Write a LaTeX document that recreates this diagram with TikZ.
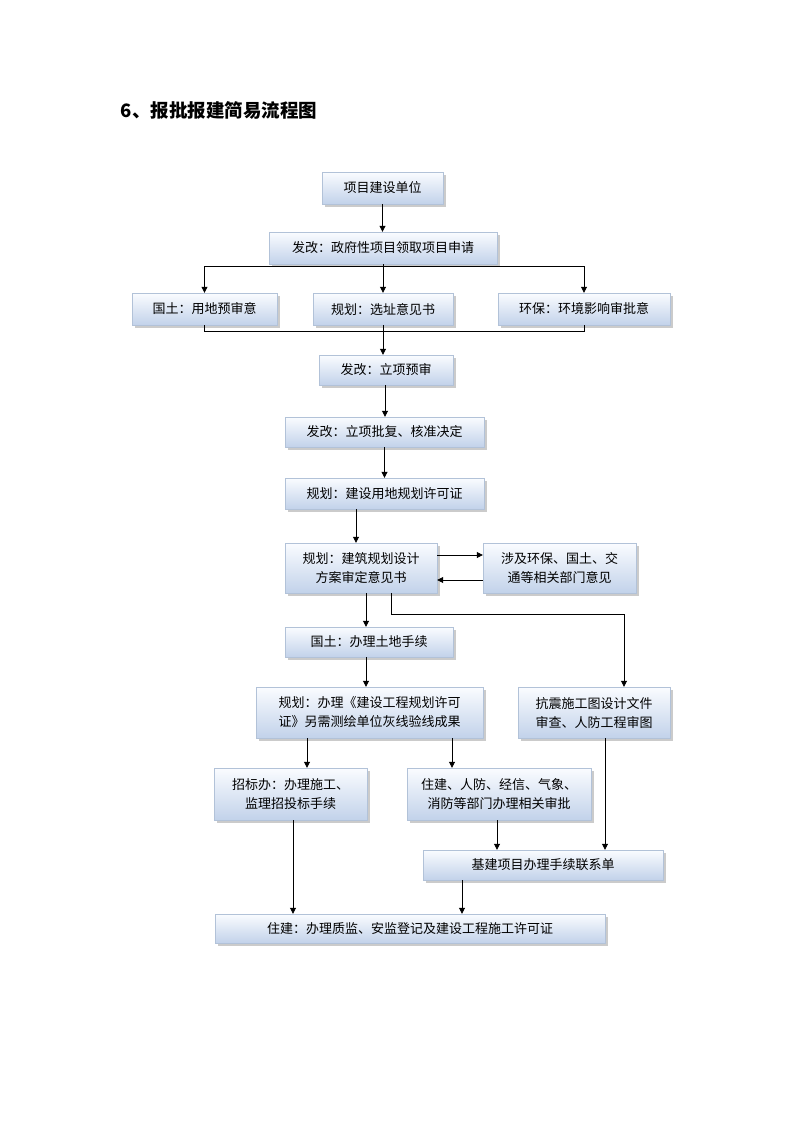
\documentclass[tikz,border=0pt]{standalone}
\usepackage{fontspec}
\newfontfamily\cjk{Noto Sans CJK SC}
\usetikzlibrary{arrows.meta,shadows}

\definecolor{boxtop}{RGB}{250,252,255}
\definecolor{boxbot}{RGB}{194,210,234}
\definecolor{boxline}{RGB}{178,194,216}

\tikzset{
  box/.style={draw=boxline, top color=boxtop, bottom color=boxbot,
    drop shadow={shadow xshift=2.5pt, shadow yshift=-2.5pt, fill=black!45, opacity=.45},
    inner sep=0pt, align=center, font=\cjk\fontsize{13}{19}\selectfont},
  arr/.style={-{Triangle[length=6pt,width=6pt]}, black, line width=.8pt},
  ln/.style={black, line width=.8pt}
}

\begin{document}
\begin{tikzpicture}[x=1pt,y=-1pt]
\useasboundingbox[fill=white] (0,0) rectangle (800,1132);

\node (title) at (219,110) {\cjk\bfseries\fontsize{18.5}{22}\selectfont 6、报批报建简易流程图};

% Put the boxes in, top to bottom:
\node[box, minimum width=121pt, minimum height=32pt] (xm) at (382.5,188) {项目建设单位};
\node[box, minimum width=228pt, minimum height=32pt] (fg) at (383,248) {发改：政府性项目领取项目申请};
\node[box, minimum width=145pt, minimum height=32pt] (gt) at (204.5,309) {国土：用地预审意};
\node[box, minimum width=140pt, minimum height=32pt] (gh) at (383,309) {规划：选址意见书};
\node[box, minimum width=172pt, minimum height=32pt] (hb) at (584,309) {环保：环境影响审批意};
\node[box, minimum width=134pt, minimum height=30pt] (lx) at (386,370) {发改：立项预审};
\node[box, minimum width=199pt, minimum height=30pt] (pf) at (384.5,432) {发改：立项批复、核准决定};
\node[box, minimum width=199pt, minimum height=31pt] (yd) at (384.5,493.5) {规划：建设用地规划许可证};
\node[box, minimum width=152pt, minimum height=50pt] (fa) at (361,568) {规划：建筑规划设计\\方案审定意见书};
\node[box, minimum width=153pt, minimum height=50pt] (yj) at (559.5,568) {涉及环保、国土、交\\通等相关部门意见};
\node[box, minimum width=168pt, minimum height=30pt] (td) at (369,642) {国土：办理土地手续};
\node[box, minimum width=227pt, minimum height=51pt] (xk) at (369.5,712.5) {规划：办理《建设工程规划许可\\证》另需测绘单位灰线验线成果};
\node[box, minimum width=152pt, minimum height=51pt] (kz) at (594,712.5) {抗震施工图设计文件\\审查、人防工程审图};
\node[box, minimum width=153pt, minimum height=52pt] (zb) at (290.5,794) {招标办：办理施工、\\监理招投标手续};
\node[box, minimum width=184pt, minimum height=52pt] (sp) at (499,794) {住建、人防、经信、气象、\\消防等部门办理相关审批};
\node[box, minimum width=240pt, minimum height=30pt] (lxd) at (543,865) {基建项目办理手续联系单};
\node[box, minimum width=390pt, minimum height=29pt] (sg) at (410,928.5) {住建：办理质监、安监登记及建设工程施工许可证};

% Branch out to the three offices and join again:
\coordinate (bus1) at (383,266);
\coordinate (bus2) at (383,331);
\draw[arr] (xm.south) -- (xm.south |- fg.north);
\draw[ln] (fg.south) -- (bus1);
\draw[ln] (gt.north |- bus1) -- (hb.north |- bus1);
\foreach \n in {gt,gh,hb}
  \draw[arr] (\n.north |- bus1) -- (\n.north);
\draw[ln] (gt.south) -- (gt.south |- bus2) -- (hb.south |- bus2) -- (hb.south);
\draw[arr] (gh.south) coordinate (t) -- (t |- lx.north);

\draw[arr] ([xshift=-1pt]lx.south) coordinate (t) -- (t |- pf.north);
\draw[arr] (pf.south) coordinate (t) -- (t |- yd.north);
\draw[arr] ([xshift=-28.5pt]yd.south) coordinate (t) -- (t |- fa.north);

% Back and forth with the other departments:
\draw[arr] ([yshift=13pt]fa.east) -- ([yshift=13pt]yj.west);
\draw[arr] ([yshift=-12pt]yj.west) -- ([yshift=-12pt]fa.east);

\draw[arr] ([xshift=5pt]fa.south) coordinate (t) -- (t |- td.north);
\draw[arr] ([xshift=30pt]fa.south) -- ++(0,21) -| ([xshift=30pt]kz.north);
\draw[arr] ([xshift=-3pt]td.south) coordinate (t) -- (t |- xk.north);
\draw[arr] ([xshift=-62.5pt]xk.south) coordinate (t) -- (t |- zb.north);
\draw[arr] ([xshift=82.5pt]xk.south) coordinate (t) -- (t |- sp.north);
\draw[arr] ([xshift=-2pt]sp.south) coordinate (t) -- (t |- lxd.north);
\draw[arr] ([xshift=11pt]kz.south) coordinate (t) -- (t |- lxd.north);
\draw[arr] ([xshift=2.5pt]zb.south) coordinate (t) -- (t |- sg.north);
\draw[arr] ([xshift=-81pt]lxd.south) coordinate (t) -- (t |- sg.north);
\end{tikzpicture}
\end{document}
